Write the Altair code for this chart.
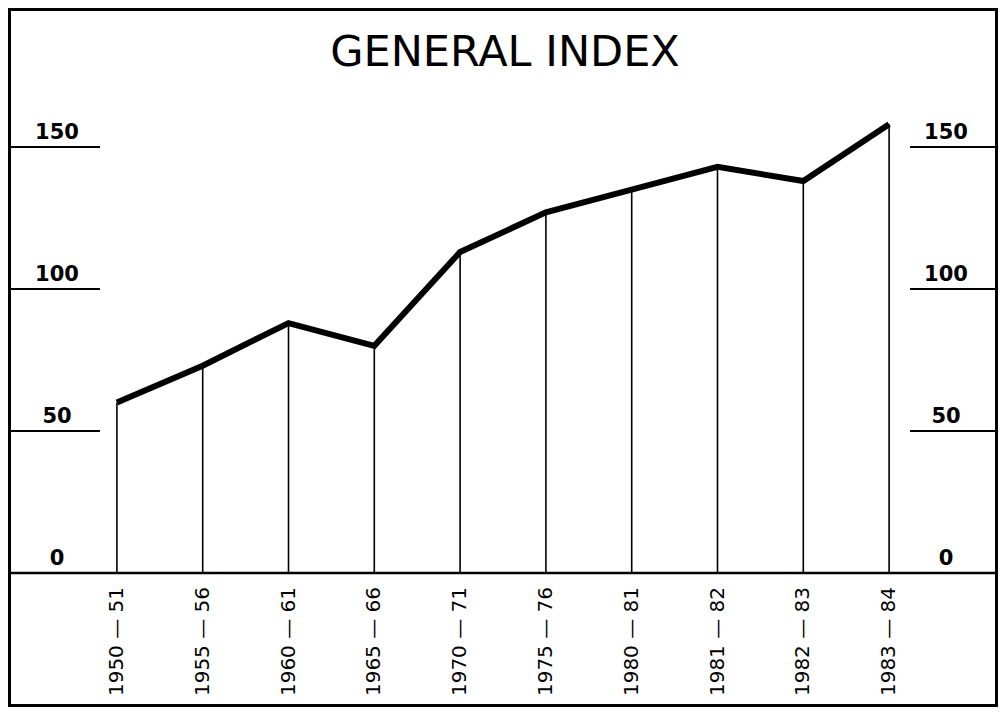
import altair as alt
import pandas as pd

periods = ["1950 — 51", "1955 — 56", "1960 — 61", "1965 — 66", "1970 — 71",
           "1975 — 76", "1980 — 81", "1981 — 82", "1982 — 83", "1983 — 84"]
index_values = [60, 73, 88, 80, 113, 127, 135, 143, 138, 158]
tick_values = [0, 50, 100, 150]
title_text = "GENERAL INDEX"

W, H = 990, 699
FONT = "DejaVu Sans"

df = pd.DataFrame({"period": periods, "value": index_values})
ticks = pd.DataFrame({"v": tick_values, "label": [str(t) for t in tick_values]})
ticks_nz = ticks[ticks.v > 0]

# point scale (default padding 0.5): first point at 109, last at 881
xs = alt.Scale(domain=periods, range=[66, 924])
ys = alt.Scale(domain=[0, 150], range=[565, 139], nice=False, zero=False)

X = alt.X("period:O", scale=xs, axis=None, sort=periods)
Y = alt.Y("value:Q", scale=ys, axis=None)

drops = alt.Chart(df).mark_rule(color="black", strokeWidth=1.6).encode(
    x=X, y=Y, y2=alt.Y2(datum=0))

line = alt.Chart(df).mark_line(color="black", strokeWidth=6, strokeJoin="miter").encode(
    x=X, y=Y)

baseline = alt.Chart(ticks[ticks.v == 0]).mark_rule(color="black", strokeWidth=2.5).encode(
    y=alt.Y("v:Q", scale=ys, axis=None), x=alt.value(0), x2=alt.value(W))

left_ticks = alt.Chart(ticks_nz).mark_rule(color="black", strokeWidth=2.2).encode(
    y=alt.Y("v:Q", scale=ys, axis=None), x=alt.value(0), x2=alt.value(92))
right_ticks = alt.Chart(ticks_nz).mark_rule(color="black", strokeWidth=2.2).encode(
    y=alt.Y("v:Q", scale=ys, axis=None), x=alt.value(902), x2=alt.value(W))

left_labels = alt.Chart(ticks).mark_text(
    font=FONT, fontSize=21, fontWeight="bold", align="center", baseline="alphabetic", dy=-8
).encode(y=alt.Y("v:Q", scale=ys, axis=None), x=alt.value(49), text="label:N")
right_labels = alt.Chart(ticks).mark_text(
    font=FONT, fontSize=21, fontWeight="bold", align="center", baseline="alphabetic", dy=-8
).encode(y=alt.Y("v:Q", scale=ys, axis=None), x=alt.value(938), text="label:N")

x_labels = alt.Chart(df).mark_text(
    font=FONT, fontSize=20, angle=270, align="right", baseline="middle"
).encode(x=X, y=alt.value(579), text="period:N")

title = alt.Chart(pd.DataFrame({"t": [title_text]})).mark_text(
    font=FONT, fontSize=43, align="center", baseline="alphabetic"
).encode(x=alt.value(497), y=alt.value(58), text="t:N")

# frame around the whole figure
frame_v = alt.Chart(pd.DataFrame({"k": [0]})).mark_rule(color="black", strokeWidth=3).encode(
    x=alt.value(1.5), y=alt.value(0), y2=alt.value(H))
frame_v2 = alt.Chart(pd.DataFrame({"k": [0]})).mark_rule(color="black", strokeWidth=3).encode(
    x=alt.value(W - 1.5), y=alt.value(0), y2=alt.value(H))
frame_h = alt.Chart(pd.DataFrame({"k": [0]})).mark_rule(color="black", strokeWidth=3).encode(
    y=alt.value(1.5), x=alt.value(0), x2=alt.value(W))
frame_h2 = alt.Chart(pd.DataFrame({"k": [0]})).mark_rule(color="black", strokeWidth=3).encode(
    y=alt.value(H - 1.5), x=alt.value(0), x2=alt.value(W))

chart = alt.layer(
    drops, line, baseline, left_ticks, right_ticks, left_labels, right_labels, x_labels, title,
    frame_v, frame_v2, frame_h, frame_h2
).properties(
    width=W, height=H, autosize=alt.AutoSizeParams(type="none"), padding=0
).configure_view(stroke=None).configure(background="white")

chart.save("out.html", embed_options={"renderer": "svg", "actions": False})
